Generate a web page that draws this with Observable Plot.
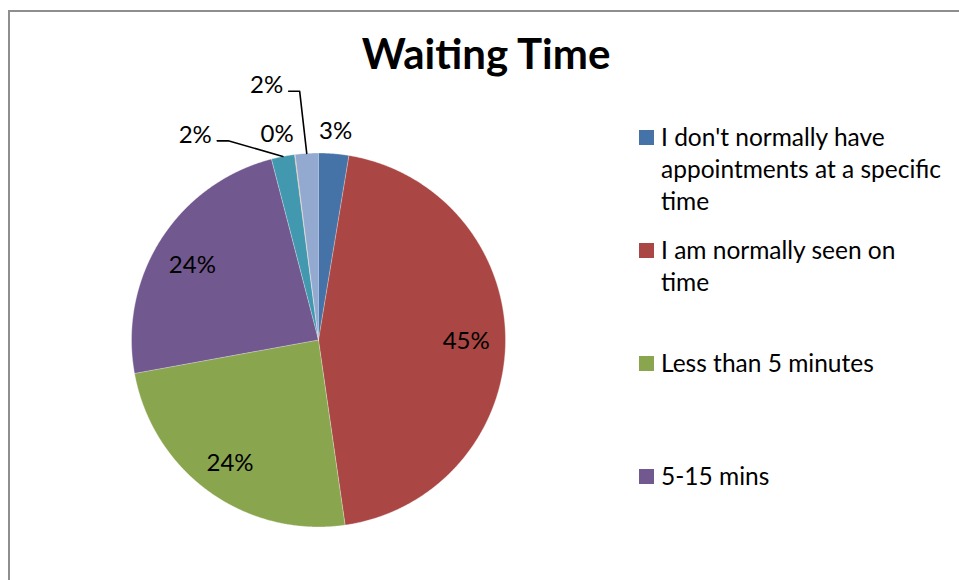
<!DOCTYPE html>
<html><head><meta charset="utf-8">
<script src="https://cdn.jsdelivr.net/npm/d3@7"></script>
<script src="https://cdn.jsdelivr.net/npm/@observablehq/plot@0.6"></script>
<style>
body{margin:0;background:#fff;}
#wrap{position:relative;width:959px;height:580px;overflow:hidden;font-family:Lato,sans-serif;background:#fff;}
#frame{position:absolute;left:8px;top:10px;width:1000px;height:700px;border-left:2px solid #8e8e8e;border-top:2px solid #8e8e8e;}
#chart{position:absolute;left:0;top:0;}
#title{position:absolute;left:286px;top:32px;width:400px;text-align:center;font-weight:bold;font-size:42px;line-height:42px;color:#000;}
.item{position:absolute;left:639px;width:315px;}
.sw{position:absolute;left:0;width:15px;height:15px;top:9px}
.lab{position:absolute;left:22px;width:285px;font-size:24.5px;line-height:32px;color:#000;}
</style></head><body>
<div id="wrap"><div id="frame"></div><div id="chart"></div><div id="title">Waiting Time</div><div id="legend"></div></div>
<script>
const categories = [
  "I don't normally have appointments at a specific time",
  "I am normally seen on time",
  "Less than 5 minutes",
  "5-15 mins",
  "15-30 mins",
  "30-60 mins",
  "More than 1 hour"
];
const values = [2.6, 45.1, 24.4, 23.8, 2.0, 0.05, 2.0];
const colors = ["#4572A7", "#AA4643", "#89A54E", "#71588F", "#4198AF", "#DB843D", "#93A9CF"];
const legendShown = 4;

// layout
const cx = 318, cy = 339.5, R = 187;
const deg = Math.PI / 180;
// label placement: angle (null = slice middle) and radius factor
const labelLayout = [
  {angle: null, k: 1.12},
  {angle: null, k: 0.79},
  {angle: null, k: 0.81},
  {angle: null, k: 0.80, dy: 6},
  {angle: 329 * deg, k: 1.28, leader: true},
  {angle: 348.6 * deg, k: 1.12},
  {angle: 348.5 * deg, k: 1.39, leader: true}
];

const rows = categories.map((c, i) => ({category: c, value: values[i], color: colors[i]}));
const arcs = d3.pie().sort(null).value(d => d.value)(rows);

const slicePts = [];
arcs.forEach((a, i) => {
  const n = Math.max(2, Math.ceil((a.endAngle - a.startAngle) / 0.005));
  slicePts.push({k: i, x: cx, y: cy, fill: colors[i]});
  for (let j = 0; j <= n; j++) {
    const t = a.startAngle + (a.endAngle - a.startAngle) * j / n;
    slicePts.push({k: i, x: cx + R * Math.sin(t), y: cy - R * Math.cos(t), fill: colors[i]});
  }
});

const labels = [];
const leaders = [];
arcs.forEach((a, i) => {
  const L = labelLayout[i];
  const mid = (a.startAngle + a.endAngle) / 2;
  const ang = L.angle == null ? mid : L.angle;
  const lx = cx + L.k * R * Math.sin(ang);
  const ly = cy - L.k * R * Math.cos(ang) + (L.dy || 0);
  labels.push({x: lx, y: ly, text: Math.round(a.data.value) + "%"});
  if (L.leader) {
    leaders.push({k: i, x: cx + R * Math.sin(mid), y: cy - R * Math.cos(mid)});
    leaders.push({k: i, x: lx + 33, y: ly + 6});
    leaders.push({k: i, x: lx + 22, y: ly + 6});
  }
});

const plot = Plot.plot({
  width: 959, height: 580,
  margin: 0,
  x: {type: "identity", axis: null},
  y: {type: "identity", axis: null},
  color: {type: "identity"},
  style: {background: "transparent", fontFamily: "Lato, sans-serif"},
  marks: [
    Plot.line(slicePts, {x: "x", y: "y", z: "k", fill: "fill", stroke: "#ffffff", strokeWidth: 0.7, strokeOpacity: 0.5, curve: "linear"}),
    Plot.line(leaders, {x: "x", y: "y", z: "k", stroke: "#000", strokeWidth: 1.6}),
    Plot.text(labels, {x: "x", y: "y", text: "text", fontSize: 24, fill: "#000"})
  ]
});
document.getElementById("chart").appendChild(plot);

const legend = document.getElementById("legend");
rows.slice(0, legendShown).forEach((r, i) => {
  const it = document.createElement("div");
  it.className = "item";
  it.style.top = (121 + i * 113) + "px";
  const sw = document.createElement("div");
  sw.className = "sw";
  sw.style.background = r.color;
  const lab = document.createElement("div");
  lab.className = "lab";
  lab.textContent = r.category;
  it.appendChild(sw); it.appendChild(lab);
  legend.appendChild(it);
});
</script>
</body></html>
